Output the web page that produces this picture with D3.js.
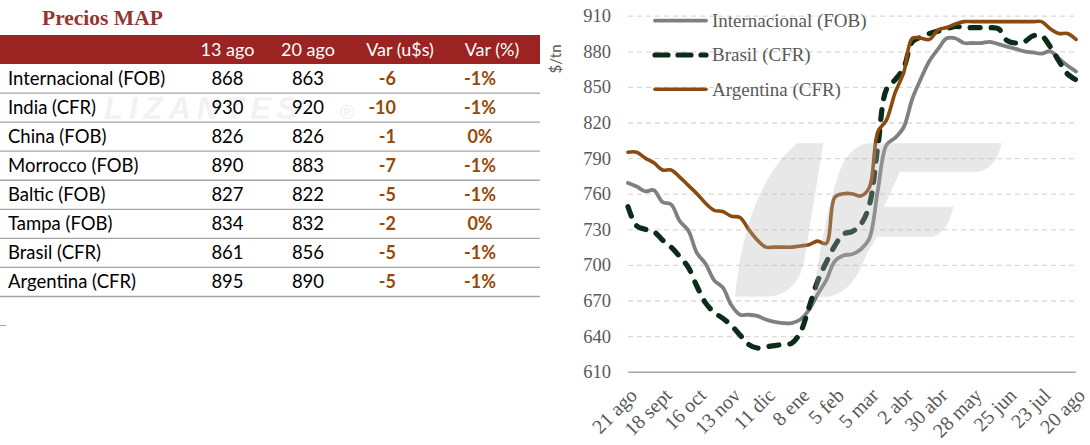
<!DOCTYPE html>
<html><head><meta charset="utf-8">
<script src="https://cdn.jsdelivr.net/npm/d3@7"></script>
<style>body{margin:0;background:#fff;} svg{display:block;}</style>
</head><body>
<svg id="c" width="1090" height="445"></svg>
<script>
// ---------- DATA ----------
const tableTitle = "Precios MAP";
const tableHeaders = ["13 ago", "20 ago", "Var (u$s)", "Var (%)"];
const rowNames = ["Internacional (FOB)", "India (CFR)", "China (FOB)", "Morrocco (FOB)", "Baltic (FOB)", "Tampa (FOB)", "Brasil (CFR)", "Argentina (CFR)"];
const price13ago = [868, 930, 826, 890, 827, 834, 861, 895];
const price20ago = [863, 920, 826, 883, 822, 832, 856, 890];
const varUsd = [-6, -10, -1, -7, -5, -2, -5, -5];
const varPct = ["-1%", "-1%", "0%", "-1%", "-1%", "0%", "-1%", "-1%"];

const xTickLabels = ["21 ago", "18 sept", "16 oct", "13 nov", "11 dic", "8 ene", "5 feb", "5 mar", "2 abr", "30 abr", "28 may", "25 jun", "23 jul", "20 ago"];
const yTicks = [610, 640, 670, 700, 730, 760, 790, 820, 850, 880, 910];
const seriesNames = ["Internacional (FOB)", "Brasil (CFR)", "Argentina (CFR)"];
// weekly values, 53 weeks (21 ago -> 20 ago)
const internacional = [769,766,762,763,753,751,737,729,710,701,687,681,666,658,658,657,654,652,651,651,654,662,675,687,703,708,709,713,722,763,801,807,816,840,857,872,882,891,891,887,887,887,888,886,884,882,880,879,878,880,874,868,863];
const brasil = [749,733,730,728,721,715,707,698,682,668,660,655,649,641,633,630,631,632,633,634,643,664,686,702,716,726,728,734,750,800,848,856,866,888,892,895,897,899,901,900,900,900,900,899,889,887,888,893,893,884,872,861,856];
const argentina = [795,795,790,786,780,780,774,767,760,752,746,745,741,740,730,721,715,715,715,715,716,717,720,718,757,760,760,758,765,812,822,845,862,891,891,890,898,900,903,905,905,905,905,905,905,905,905,905,905,899,895,895,890];

// ---------- STYLE ----------
const serif = "'Liberation Serif', 'Times New Roman', serif";
const sans = "Lato, 'Open Sans', sans-serif";
const axisColor = "#595959";
const seriesColors = ["#808080", "#0c2c19", "#8b4a0f"];

const svg = d3.select("#c");

// ---------- TABLE ----------
const tbl = svg.append("g");
tbl.append("text").attr("x", 42).attr("y", 25)
  .attr("font-family", serif).attr("font-weight", "bold").attr("font-size", 21.5)
  .attr("fill", "#953533").text(tableTitle);

// faint watermark behind table
tbl.append("text").attr("x", 104).attr("y", 119)
  .attr("font-family", "'Liberation Sans', Arial, sans-serif").attr("font-style", "italic")
  .attr("font-weight", "bold").attr("font-size", 31).attr("letter-spacing", 6)
  .attr("fill", "#f2f2f2").text("LIZANTES");
tbl.append("text").attr("x", 340).attr("y", 119)
  .attr("font-family", "'Liberation Sans', Arial, sans-serif")
  .attr("font-size", 20).attr("fill", "#f0f0f0").text("®");

const rowY = d3.scaleLinear().domain([0, rowNames.length]).range([64, 296.5]);
tbl.append("rect").attr("x", 0).attr("y", 35).attr("width", 540).attr("height", 29).attr("fill", "#9b2321");

const headerX = [227.5, 308, 400, 492];
tbl.selectAll("text.hdr").data(tableHeaders).join("text").attr("class", "hdr")
  .attr("x", (d, i) => headerX[i]).attr("y", 56)
  .attr("text-anchor", "middle").attr("font-family", sans).attr("font-size", 18)
  .attr("fill", "#fff").text(d => d);

const rows = tbl.selectAll("g.row").data(rowNames).join("g").attr("class", "row")
  .attr("transform", (d, i) => `translate(0,${rowY(i)})`);
rows.append("line").attr("x1", 0).attr("x2", 540)
  .attr("y1", (d, i) => rowY(i + 1) - rowY(i)).attr("y2", (d, i) => rowY(i + 1) - rowY(i))
  .attr("stroke", "#a6a6a6").attr("stroke-width", 1.3);
const baseY = 21;
rows.append("text").attr("x", 8).attr("y", baseY).attr("font-family", sans).attr("font-size", 18.5)
  .attr("fill", "#000").text(d => d);
rows.append("text").attr("x", 227.5).attr("y", baseY).attr("text-anchor", "middle")
  .attr("font-family", sans).attr("font-size", 18.5).attr("fill", "#000").text((d, i) => price13ago[i]);
rows.append("text").attr("x", 308).attr("y", baseY).attr("text-anchor", "middle")
  .attr("font-family", sans).attr("font-size", 18.5).attr("fill", "#000").text((d, i) => price20ago[i]);
rows.append("text").attr("x", 396).attr("y", baseY).attr("text-anchor", "end")
  .attr("font-family", sans).attr("font-weight", "bold").attr("font-size", 18)
  .attr("fill", "#984807").text((d, i) => varUsd[i]);
rows.append("text").attr("x", 480).attr("y", baseY).attr("text-anchor", "middle")
  .attr("font-family", sans).attr("font-weight", "bold").attr("font-size", 18)
  .attr("fill", "#984807").text((d, i) => varPct[i]);
tbl.append("line").attr("x1", 0).attr("x2", 6).attr("y1", 325.5).attr("y2", 325.5)
  .attr("stroke", "#a6a6a6").attr("stroke-width", 1);

// ---------- CHART ----------
const x0 = 628, x1 = 1076, yTop = 15.7, yBot = 371.7;
const nWeeks = internacional.length;
const x = d3.scaleLinear().domain([0, nWeeks - 1]).range([x0, x1]);
const y = d3.scaleLinear().domain([610, 910]).range([yBot, yTop]);

const chart = svg.append("g");
const yAxis = chart.append("g").attr("transform", `translate(${x0},0)`)
  .call(d3.axisLeft(y).tickValues(yTicks).tickSize(-(x1 - x0)).tickPadding(17).tickFormat(d3.format("d")));
yAxis.select(".domain").remove();
yAxis.selectAll(".tick line")
  .attr("stroke", d => d === 610 ? "#a6a6a6" : "#d9d9d9")
  .attr("stroke-width", d => d === 610 ? 1.5 : 1.3)
  .attr("stroke-dasharray", d => d === 610 ? null : "5,4");
yAxis.selectAll(".tick text").attr("font-family", serif).attr("font-size", 18.5).attr("fill", axisColor);

const xTickIdx = d3.range(0, nWeeks, 4);
const xAxis = chart.append("g").attr("transform", `translate(0,${yBot})`)
  .call(d3.axisBottom(x).tickValues(xTickIdx).tickSize(0).tickFormat((d, i) => xTickLabels[i]));
xAxis.select(".domain").remove();
xAxis.selectAll(".tick text")
  .attr("font-family", serif).attr("font-size", 20).attr("fill", axisColor)
  .attr("text-anchor", "end").attr("y", 0).attr("dy", "0.35em")
  .attr("transform", "translate(5,20) rotate(-45)");

// y title
chart.append("text").attr("transform", "translate(556,59) rotate(-90)")
  .attr("text-anchor", "middle").attr("dy", "0.35em")
  .attr("font-family", sans).attr("font-size", 15).attr("fill", axisColor).text("$/tn");

// lines
const line = d3.line().x((d, i) => x(i)).y(d => y(d)).curve(d3.curveCatmullRom.alpha(0.5));
const allSeries = [internacional, brasil, argentina];
const widths = [3.8, 5.2, 3.6];
const dashes = [null, "10,11", null];
chart.selectAll("path.series").data(allSeries).join("path").attr("class", "series")
  .attr("d", line).attr("fill", "none")
  .attr("stroke", (d, i) => seriesColors[i]).attr("stroke-width", (d, i) => widths[i])
  .attr("stroke-dasharray", (d, i) => dashes[i])
  .attr("stroke-linecap", "round").attr("stroke-linejoin", "round");

// legend
const lg = chart.selectAll("g.leg").data(seriesNames).join("g").attr("class", "leg")
  .attr("transform", (d, i) => `translate(655,${20.7 + i * 34.3})`);
lg.append("line").attr("x1", 0).attr("x2", 51).attr("y1", 0).attr("y2", 0)
  .attr("stroke", (d, i) => seriesColors[i]).attr("stroke-width", (d, i) => widths[i])
  .attr("stroke-dasharray", (d, i) => i === 1 ? "13,10" : null)
  .attr("stroke-linecap", "round");
lg.append("text").attr("x", 57).attr("y", 0).attr("dy", "0.33em")
  .attr("font-family", serif).attr("font-size", 19).attr("fill", axisColor).text(d => d);

// semi-transparent watermark logo over the plot
const wm = chart.append("g").attr("fill", "#b4b4b4").attr("fill-opacity", 0.31);
wm.append("path").attr("d", "M797,143.3 L823.3,143.3 L804,262 C799,284 786,296.7 765,296.7 L735,296.7 C741,236 757,178 797,143.3 Z");
wm.append("path").attr("d", "M866.7,143.3 L1001.7,143.3 Q996,168 979,171.7 L900,171.7 L884,206.7 L953.3,206.7 Q948,232 933,236.7 L877,236.7 L867,253.3 C858,276 848,294 828,296.7 L813.3,296.7 C818,260 826,215 836,182 C842,160 852,147 866.7,143.3 Z");
</script>
</body></html>
